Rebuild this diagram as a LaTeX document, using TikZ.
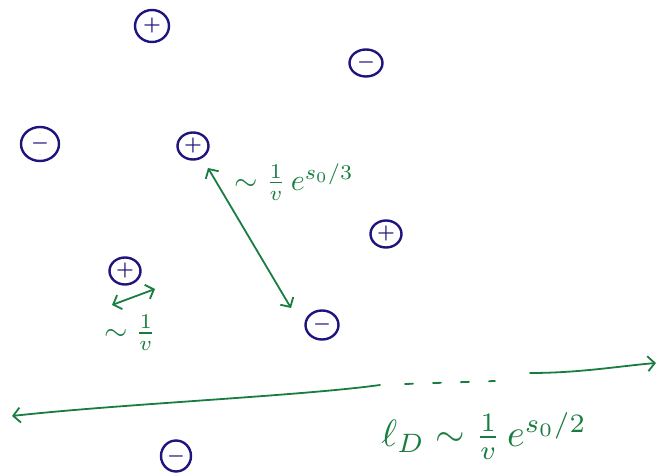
\documentclass[tikz,border=0pt]{standalone}
\usepackage{graphicx}
\usepackage{tikz}
\usetikzlibrary{arrows.meta,shapes.geometric,calc}
\definecolor{inkblue}{RGB}{30,20,125}
\definecolor{inkgreen}{RGB}{25,125,65}
\newcommand{\chpos}{\scalebox{2}{\boldmath$+$}}
\newcommand{\chneg}{\scalebox{2}{\boldmath$-$}}
\begin{document}
\begin{tikzpicture}[x=1pt,y=-1pt,
  charge/.style={ellipse, draw=inkblue, line width=2.4pt, text=inkblue,
    minimum width=31pt, minimum height=27pt, inner sep=0pt},
  link/.style={draw=inkgreen, line width=1.8pt, line cap=round, {Straight Barb[length=7pt,width=15pt]}-{Straight Barb[length=7pt,width=15pt]}},
  ray/.style={draw=inkgreen, line width=1.8pt, line cap=round},
  lab/.style={text=inkgreen, inner sep=0pt}]
\useasboundingbox (0,0) rectangle (659,473);

% charges
\node[charge, minimum width=34pt, minimum height=32pt] (p1) at (152,26) {\chpos};
\node[charge, minimum width=33pt, minimum height=27pt] (m1) at (366,63) {\chneg};
\node[charge, minimum width=38pt, minimum height=34pt] (m2) at (40,144) {\chneg};
\node[charge] (p2) at (193,146) {\chpos};
\node[charge] (p3) at (386,234) {\chpos};
\node[charge] (p4) at (125,271) {\chpos};
\node[charge, minimum width=33pt, minimum height=29pt] (m3) at (322,325) {\chneg};
\node[charge, minimum width=30pt, minimum height=31pt] (m4) at (176,456) {\chneg};

% separations
\draw[link] ($(p2)+(15,22)$) -- ($(m3)+(-31,-17)$);
\draw[link] ($(p4)+(-13,34)$) -- ($(p4)+(30,18)$);

% screening length
\coordinate (Lmid) at (380,385);
\coordinate (Lend) at (12,416);
\coordinate (Dstart) at (405,384);
\coordinate (Dend) at (495,381);
\coordinate (Rstart) at (530,373);
\coordinate (Rend) at (656,363);
\draw[ray, -{Straight Barb[length=7pt,width=15pt]}] (Lmid) .. controls (300,396) and (120,404) .. (Lend);
\draw[ray, dash pattern=on 8pt off 20pt] (Dstart) -- (Dend);
\draw[ray, -{Straight Barb[length=7pt,width=15pt]}] (Rstart) .. controls (580,373) and (620,366) .. (Rend);

% labels
\node[lab] (l1) at (294,182) {\scalebox{3}{$\sim \frac{1}{v}\,e^{s_0/3}$}};
\node[lab] (l2) at (130,333) {\scalebox{3}{$\sim \frac{1}{v}$}};
\node[lab] (l3) at (484,436) {\scalebox{3.8}{$\ell_D \sim \frac{1}{v}\,e^{s_0/2}$}};
\end{tikzpicture}
\end{document}
